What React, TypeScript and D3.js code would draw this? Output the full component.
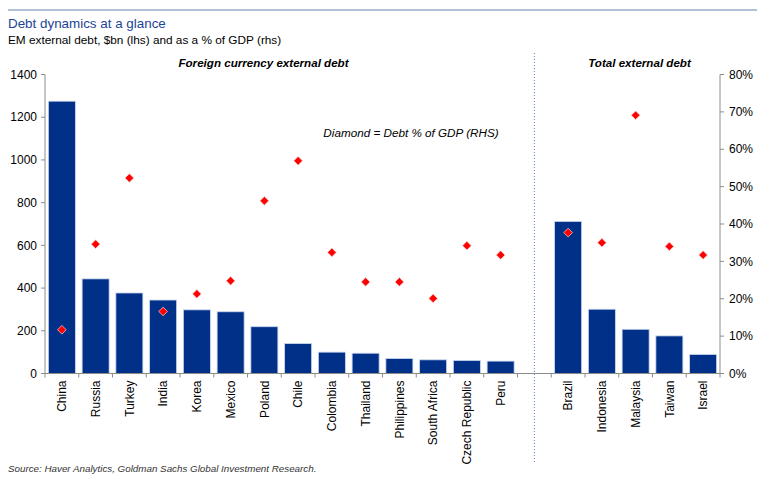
import React from "react";
import * as d3 from "d3";

const categories = [
  "China", "Russia", "Turkey", "India", "Korea", "Mexico", "Poland", "Chile",
  "Colombia", "Thailand", "Philippines", "South Africa", "Czech Republic", "Peru",
  "", "Brazil", "Indonesia", "Malaysia", "Taiwan", "Israel",
];
const debtBn: (number | null)[] = [
  1275, 443, 377, 344, 298, 289, 219, 140, 100, 95, 70, 64, 61, 58,
  null, 712, 301, 207, 176, 89,
];
const debtPctGdp: (number | null)[] = [
  11.7, 34.6, 52.3, 16.6, 21.3, 24.8, 46.2, 56.9, 32.4, 24.5, 24.5, 20.1, 34.2, 31.7,
  null, 37.7, 35.0, 69.1, 34.0, 31.7,
];
const leftTicks = [0, 200, 400, 600, 800, 1000, 1200, 1400];
const rightTicks = [0, 10, 20, 30, 40, 50, 60, 70, 80];

const W = 768, H = 487;
const margin = { left: 45, right: 48, top: 74.5, bottom: 113.5 };
const FONT = "Liberation Sans, Arial, sans-serif";

export default function App() {
  const x0 = margin.left, x1 = W - margin.right;
  const y0 = H - margin.bottom, y1 = margin.top;
  const x = d3.scaleBand<number>().domain(d3.range(categories.length)).range([x0, x1]).paddingInner(0.2).paddingOuter(0.1);
  const slot = (x1 - x0) / categories.length;
  const yL = d3.scaleLinear().domain([0, 1400]).range([y0, y1]);
  const yR = d3.scaleLinear().domain([0, 80]).range([y0, y1]);
  const sepX = x0 + slot * 14.5;
  const axisColor = "#8c8c8c";
  const diamond = d3.symbol().type(d3.symbolDiamond2).size(48)();

  return (
    <svg width={W} height={H} style={{ position: "absolute", left: 0, top: 0 }} fontFamily={FONT}>
      <rect width={W} height={H} fill="#fff" />
      <line x1={8} x2={757} y1={10} y2={10} stroke="#b4c0d8" strokeWidth={2} />
      <text x={8} y={28} fontSize={13.4} fill="#1c4595">Debt dynamics at a glance</text>
      <text x={8} y={44} fontSize={11.8} fill="#000">EM external debt, $bn (lhs) and as a % of GDP (rhs)</text>
      <text x={263.5} y={67} fontSize={11.6} fontWeight="bold" fontStyle="italic" textAnchor="middle">Foreign currency external debt</text>
      <text x={639.5} y={67} fontSize={11.6} fontWeight="bold" fontStyle="italic" textAnchor="middle">Total external debt</text>
      <text x={411} y={137} fontSize={11.7} fontStyle="italic" textAnchor="middle">Diamond = Debt % of GDP (RHS)</text>

      <line x1={sepX} x2={sepX} y1={53} y2={464} stroke="#5b7fc4" strokeWidth={1} strokeDasharray="1,2" />

      {debtBn.map((v, i) =>
        v == null ? null : (
          <rect key={"b" + i} x={x(i)} y={yL(v)} width={x.bandwidth()} height={y0 - yL(v)}
            fill="#003087" stroke="#c9d6ee" strokeWidth={0.8} />
        )
      )}

      {/* left axis */}
      <line x1={x0} x2={x0} y1={y1} y2={y0} stroke={axisColor} />
      {leftTicks.map((t) => (
        <g key={"l" + t} transform={`translate(${x0},${yL(t)})`}>
          <line x1={-4} x2={0} stroke={axisColor} />
          <text x={-8} dy="0.35em" fontSize={12} textAnchor="end">{t}</text>
        </g>
      ))}
      {/* right axis */}
      <line x1={x1} x2={x1} y1={y1} y2={y0} stroke={axisColor} />
      {rightTicks.map((t) => (
        <g key={"r" + t} transform={`translate(${x1},${yR(t)})`}>
          <line x1={0} x2={4} stroke={axisColor} />
          <text x={9} dy="0.35em" fontSize={12} textAnchor="start">{t + "%"}</text>
        </g>
      ))}
      {/* x axis */}
      <line x1={x0} x2={x1} y1={y0} y2={y0} stroke={axisColor} />
      {d3.range(categories.length + 1).map((i) => (
        <line key={"t" + i} x1={x0 + slot * i} x2={x0 + slot * i} y1={y0} y2={y0 + 4} stroke={axisColor} />
      ))}
      {categories.map((c, i) => (
        <text key={"c" + i} transform={`translate(${x(i)! + x.bandwidth() / 2},${y0 + 7}) rotate(-90)`}
          fontSize={12} textAnchor="end" dy="0.35em">{c}</text>
      ))}

      {debtPctGdp.map((v, i) =>
        v == null ? null : (
          <path key={"d" + i} d={diamond!} transform={`translate(${x(i)! + x.bandwidth() / 2},${yR(v)})`}
            fill="#ff0000" stroke="#f3c8c8" strokeWidth={0.8} />
        )
      )}

      <text x={8} y={472} fontSize={9.8} fontStyle="italic" fill="#333">Source: Haver Analytics, Goldman Sachs Global Investment Research.</text>
    </svg>
  );
}
